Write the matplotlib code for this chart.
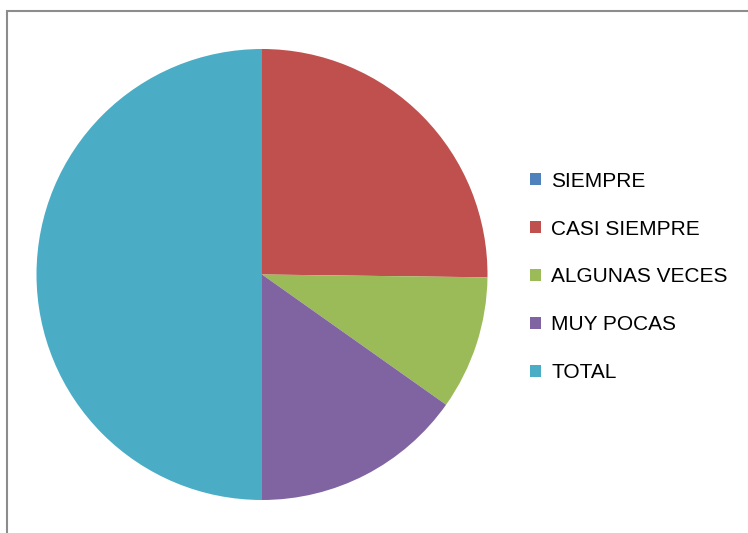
import matplotlib
matplotlib.use('Agg')
import matplotlib.pyplot as plt
from matplotlib.patches import Rectangle

# datos del grafico
categorias = ['SIEMPRE', 'CASI SIEMPRE', 'ALGUNAS VECES', 'MUY POCAS', 'TOTAL']
valores = [0, 25.2, 9.6, 15.2, 50]
colores = ['#4F81BD', '#C0504D', '#9BBB59', '#8064A2', '#4BACC6']

plt.rcParams['font.family'] = ['Liberation Sans', 'DejaVu Sans']

W, H = 748, 533
fig = plt.figure(figsize=(W / 100, H / 100), dpi=100)

# borde gris del area del grafico
fig.patches.append(Rectangle((6.5 / W, -0.05), 1.1, (H - 10.5) / H + 0.05,
                             transform=fig.transFigure, fill=False,
                             edgecolor='#8C8C8C', linewidth=1.5))

cx, cy, r = 262, 274.5, 225.5
ax = fig.add_axes([(cx - r) / W, (H - cy - r) / H, 2 * r / W, 2 * r / H])
wedges, _ = ax.pie(valores, colors=colores, startangle=90, counterclock=False,
                   radius=1, wedgeprops={'linewidth': 0})
ax.set_xlim(-1, 1)
ax.set_ylim(-1, 1)
ax.axis('off')

fig.legend(wedges, categorias, loc='center left',
           bbox_to_anchor=(511 / W, (H - 277) / H), frameon=False,
           fontsize=15, handlelength=0.53, handleheight=0.53,
           handletextpad=0.5, labelspacing=1.39)

plt.savefig('out.png', dpi=100)
